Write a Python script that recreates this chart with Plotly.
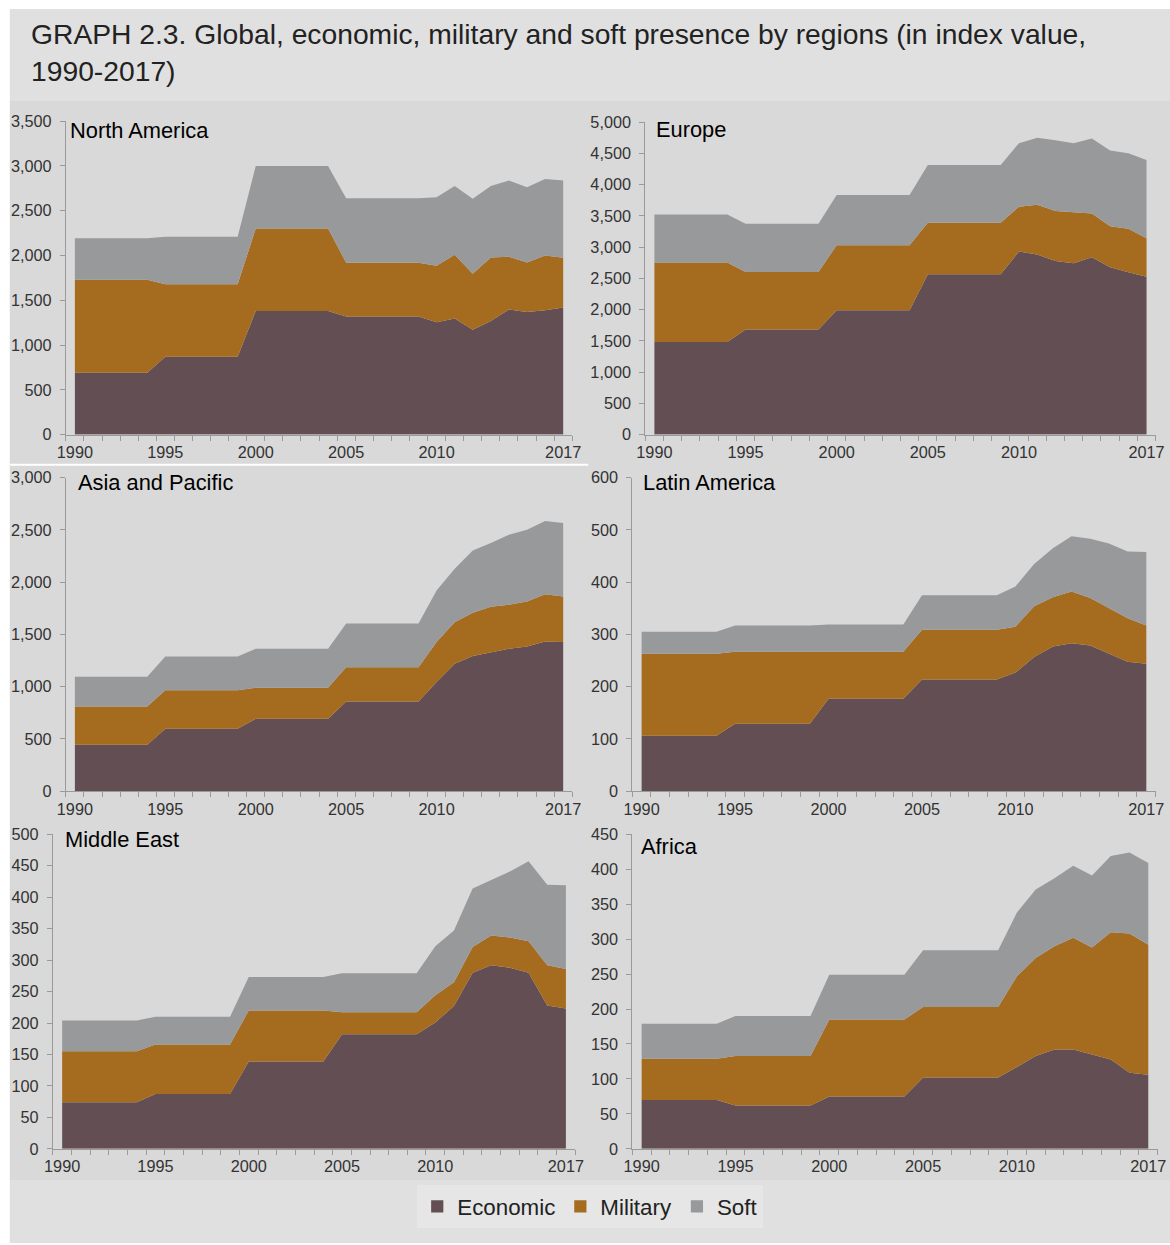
import plotly.graph_objects as go

years = list(range(1990, 2018))

# North America
na_econ = [690, 690, 690, 690, 690, 870, 870, 870, 870, 870,
           1380, 1380, 1380, 1380, 1380, 1320, 1320, 1320, 1320, 1320,
           1255, 1295, 1172, 1269, 1396, 1370, 1388, 1418]
na_mil = [1040, 1040, 1040, 1040, 1040, 810, 810, 810, 810, 810,
          920, 920, 920, 920, 920, 600, 600, 600, 600, 600,
          629, 712, 623, 709, 589, 552, 612, 556]
na_soft = [463, 463, 463, 463, 463, 530, 530, 530, 530, 530,
           698, 698, 698, 698, 698, 720, 720, 720, 720, 720,
           765, 769, 839, 798, 851, 839, 854, 862]

# Europe
eu_econ = [1480, 1480, 1480, 1480, 1480, 1680, 1680, 1680, 1680, 1680,
           1990, 1990, 1990, 1990, 1990, 2565, 2565, 2565, 2565, 2565,
           2928, 2880, 2778, 2741, 2837, 2677, 2597, 2527]
eu_mil = [1272, 1272, 1272, 1272, 1272, 922, 922, 922, 922, 922,
          1040, 1040, 1040, 1040, 1040, 824, 824, 824, 824, 824,
          718, 798, 798, 819, 701, 658, 695, 615]
eu_soft = [770, 770, 770, 770, 770, 771, 771, 771, 771, 771,
           803, 803, 803, 803, 803, 926, 926, 926, 926, 926,
           1017, 1071, 1135, 1103, 1199, 1210, 1210, 1253]

# Asia and Pacific
ap_econ = [444, 444, 444, 444, 444, 597, 597, 597, 597, 597,
           693, 693, 693, 693, 693, 859, 859, 859, 859, 859,
           1044, 1219, 1293, 1331, 1363, 1385, 1433, 1427]
ap_mil = [367, 367, 367, 367, 367, 370, 370, 370, 370, 370,
          296, 296, 296, 296, 296, 328, 328, 328, 328, 328,
          383, 399, 415, 434, 421, 431, 453, 437]
ap_soft = [284, 284, 284, 284, 284, 323, 323, 323, 323, 323,
           374, 374, 374, 374, 374, 418, 418, 418, 418, 418,
           494, 511, 596, 610, 670, 686, 699, 702]

# Latin America
la_econ = [106, 106, 106, 106, 106, 129, 129, 129, 129, 129,
           177, 177, 177, 177, 177, 214, 214, 214, 214, 214,
           227, 257, 277, 283, 279, 264, 248, 244]
la_mil = [157, 157, 157, 157, 157, 138, 138, 138, 138, 138,
          90, 90, 90, 90, 90, 95, 95, 95, 95, 95,
          88, 97, 94, 99, 91, 87, 83, 73]
la_soft = [42, 42, 42, 42, 42, 50, 50, 50, 50, 50,
           52, 52, 52, 52, 52, 66, 66, 66, 66, 66,
           77, 81, 94, 106, 113, 123, 128, 141]

# Middle East
me_econ = [74, 74, 74, 74, 74, 87, 87, 87, 87, 87,
           139, 139, 139, 139, 139, 182, 182, 182, 182, 182,
           201, 227, 280, 292, 288, 280, 228, 223]
me_mil = [81, 81, 81, 81, 81, 79, 79, 79, 79, 79,
          81, 81, 81, 81, 81, 35, 35, 35, 35, 35,
          43, 38, 41, 47, 48, 50, 64, 63]
me_soft = [49, 49, 49, 49, 49, 44, 44, 44, 44, 44,
           53, 53, 53, 53, 53, 62, 62, 62, 62, 62,
           78, 82, 93, 89, 105, 127, 128, 133]

# Africa
af_econ = [70, 70, 70, 70, 70, 62, 62, 62, 62, 62,
           75, 75, 75, 75, 75, 102, 102, 102, 102, 102,
           117, 133, 142, 142, 135, 128, 109, 106]
af_mil = [59, 59, 59, 59, 59, 71, 71, 71, 71, 71,
          110, 110, 110, 110, 110, 101, 101, 101, 101, 101,
          130, 140, 148, 160, 153, 182, 199, 186]
af_soft = [50, 50, 50, 50, 50, 57, 57, 57, 57, 57,
           64, 64, 64, 64, 64, 81, 81, 81, 81, 81,
           91, 98, 97, 103, 103, 109, 116, 117]

series_names = ["Economic", "Military", "Soft"]
colors = ["#634f53", "#a56b1f", "#98999b"]

x_tickvals = [1990, 1995, 2000, 2005, 2010, 2017]
x_ticktext = ["1990", "1995", "2000", "2005", "2010", "2017"]

# layout geometry (target pixel positions mapped into paper coordinates)
S = 0.984
AX, AY = 9.2, 8.1
W, H = 1180, 1257
FS = 1 / S

def px(t):
    return min(max((t - AX) / S / W, 0), 1)

def py(t):
    return min(max(1 - (t - AY) / S / H, 0), 1)

panels = [
    ("North America", (na_econ, na_mil, na_soft), 3500, 500, (66, 572), (120, 433), (68, 129)),
    ("Europe", (eu_econ, eu_mil, eu_soft), 5000, 500, (645, 1155), (121, 433), (654, 128)),
    ("Asia and Pacific", (ap_econ, ap_mil, ap_soft), 3000, 500, (66, 572), (476, 789), (76, 481)),
    ("Latin America", (la_econ, la_mil, la_soft), 600, 100, (632, 1155), (476, 789), (641, 481)),
    ("Middle East", (me_econ, me_mil, me_soft), 500, 50, (53, 575), (832, 1146), (63, 837)),
    ("Africa", (af_econ, af_mil, af_soft), 450, 50, (632, 1157), (832, 1146), (639, 844)),
]

FONT = "Liberation Sans, Arial, sans-serif"
fig = go.Figure()
annotations = []
tick_font = dict(family=FONT, size=16 * FS, color="#333333")

for i, (name, data, ymax, dtick, xd, yd, tpos) in enumerate(panels):
    idx = "" if i == 0 else str(i + 1)
    for vals, col, sname in zip(data, colors, series_names):
        fig.add_trace(go.Scatter(
            x=years, y=vals, mode="lines", stackgroup="g%d" % i,
            line=dict(width=0, color=col), fillcolor=col,
            name=sname, showlegend=False,
            xaxis="x" + idx, yaxis="y" + idx,
        ))
    fig.layout["xaxis" + idx] = dict(
        domain=[px(xd[0]), px(xd[1])], anchor="y" + idx,
        range=[1989.5, 2017.5], tickvals=x_tickvals, ticktext=x_ticktext,
        ticks="", showgrid=False, zeroline=False,
        showline=True, linecolor="#9a9a9a", linewidth=1,
        tickfont=tick_font, ticklabelstandoff=3,
        minor=dict(tickvals=[y - 0.5 for y in range(1990, 2019)], ticks="outside",
                   ticklen=5, tickcolor="#9a9a9a", showgrid=False),
    )
    fig.layout["yaxis" + idx] = dict(
        domain=[py(yd[1]), py(yd[0])], anchor="x" + idx,
        range=[0, ymax], dtick=dtick, tickformat=",",
        ticks="outside", ticklen=5, tickcolor="#9a9a9a",
        showgrid=False, zeroline=False,
        showline=True, linecolor="#9a9a9a", linewidth=1,
        tickfont=tick_font, ticklabelstandoff=5,
    )
    annotations.append(dict(
        text=name, x=px(tpos[0]), y=py(tpos[1]), xref="paper", yref="paper",
        xanchor="left", yanchor="middle", showarrow=False,
        font=dict(family=FONT, size=21.5 * FS, color="#000000"),
    ))

for col, sname in zip(colors, series_names):
    fig.add_trace(go.Scatter(
        x=[None], y=[None], mode="markers", name=sname,
        marker=dict(symbol="square", size=12 * FS, color=col),
        showlegend=True, xaxis="x", yaxis="y",
    ))

annotations.append(dict(
    text="GRAPH 2.3. Global, economic, military and soft presence by regions (in index value,<br>1990-2017)",
    x=px(29), y=py(15), xref="paper", yref="paper", xanchor="left", yanchor="top",
    align="left", showarrow=False,
    font=dict(family=FONT, size=27.8 * FS, color="#222222"),
))

shapes = [
    dict(type="rect", xref="paper", yref="paper", x0=px(10), x1=1, y0=py(100), y1=py(5),
         fillcolor="#e0e0e0", line=dict(width=0), layer="below"),
    dict(type="rect", xref="paper", yref="paper", x0=px(10), x1=1, y0=py(1177), y1=py(100),
         fillcolor="#d9d9d9", line=dict(width=0), layer="below"),
    dict(type="rect", xref="paper", yref="paper", x0=px(10), x1=1, y0=py(1240), y1=py(1177),
         fillcolor="#e0e0e0", line=dict(width=0), layer="below"),
    dict(type="rect", xref="paper", yref="paper", x0=px(10), x1=px(588), y0=py(464), y1=py(462),
         fillcolor="#ffffff", line=dict(width=0), layer="below"),
]

fig.update_layout(
    width=W, height=H,
    margin=dict(l=0, r=0, t=0, b=0),
    paper_bgcolor="#ffffff", plot_bgcolor="rgba(0,0,0,0)",
    annotations=annotations, shapes=shapes,
    showlegend=True,
    legend=dict(
        orientation="h", x=px(590), xanchor="center", y=py(1204), yanchor="middle",
        bgcolor="#e6e6e6", font=dict(family=FONT, size=22 * FS, color="#222222"),
        itemwidth=30, traceorder="normal",
    ),
    font=dict(family=FONT),
)

fig.write_html(
    "out.html",
    config={"displayModeBar": False},
    post_script="document.body.style.margin='0px';document.body.style.overflow='hidden';",
)
